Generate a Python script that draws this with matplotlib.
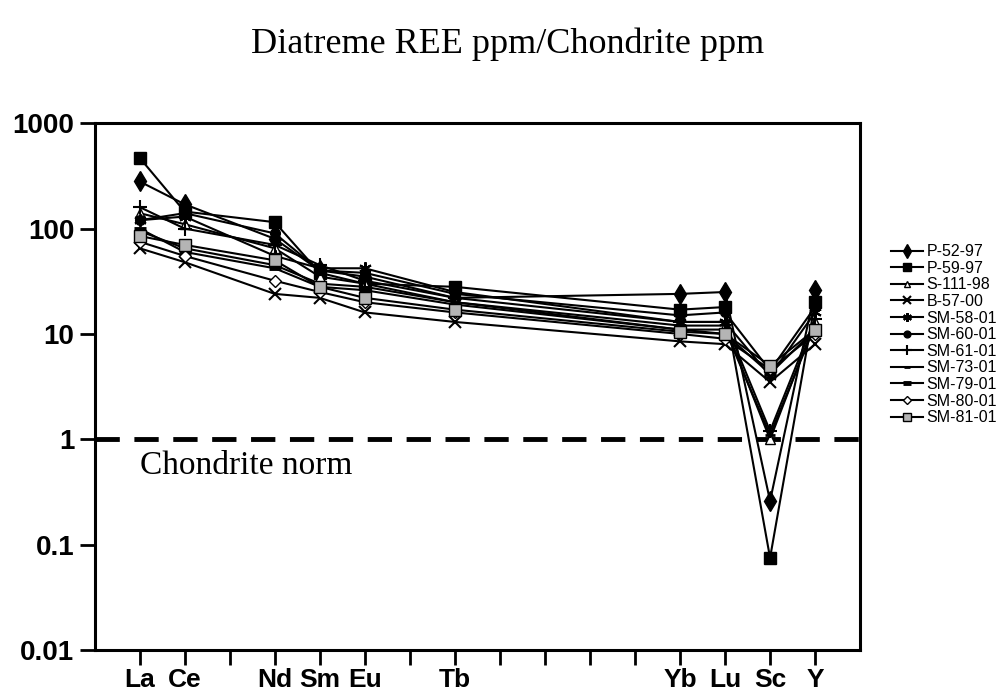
#!/usr/bin/env python3

import matplotlib
matplotlib.use("Agg")
import matplotlib.pyplot as plt

# element order on the x axis (only some of them get a label)
elements = ["La", "Ce", "Pr", "Nd", "Sm", "Eu", "Gd", "Tb",
            "Dy", "Ho", "Er", "Tm", "Yb", "Lu", "Sc", "Y"]
shown = ["La", "Ce", "Nd", "Sm", "Eu", "Tb", "Yb", "Lu", "Sc", "Y"]

samples = ["P-52-97", "P-59-97", "S-111-98", "B-57-00", "SM-58-01",
           "SM-60-01", "SM-61-01", "SM-73-01", "SM-79-01", "SM-80-01",
           "SM-81-01"]

# sample/chondrite ratios for La Ce Nd Sm Eu Tb Yb Lu Sc Y
p52_97 = [280, 170, 80, 40, 35, 22, 24, 25, 0.26, 26]
p59_97 = [470, 145, 115, 38, 30, 28, 17, 18, 0.075, 20]
s111_98 = [140, 110, 65, 35, 30, 20, 12, 12, 1.0, 13]
b57_00 = [65, 48, 24, 22, 16, 13, 8.5, 8, 3.5, 8]
sm58_01 = [120, 130, 55, 42, 42, 25, 13, 13, 4.0, 16]
sm60_01 = [120, 140, 90, 40, 38, 24, 15, 16, 4.5, 18]
sm61_01 = [160, 100, 70, 45, 32, 22, 13, 13, 1.2, 14]
sm73_01 = [95, 65, 45, 30, 28, 20, 11, 11, 1.1, 12]
sm79_01 = [100, 60, 42, 28, 26, 19, 11, 10, 4.2, 11]
sm80_01 = [75, 55, 32, 25, 20, 16, 10, 9, 4.6, 10]
sm81_01 = [85, 70, 50, 28, 22, 17, 10.5, 10, 5.0, 11]

series = [p52_97, p59_97, s111_98, b57_00, sm58_01, sm60_01,
          sm61_01, sm73_01, sm79_01, sm80_01, sm81_01]

styles = [
    dict(marker="d", ms=10, mfc="black", mec="black"),
    dict(marker="s", ms=8, mfc="black", mec="black"),
    dict(marker="^", ms=7, mfc="white", mec="black"),
    dict(marker="x", ms=8, mec="black", mew=1.5),
    dict(marker=(6, 2, 0), ms=9, mec="black", mew=1.5),
    dict(marker="o", ms=7, mfc="black", mec="black"),
    dict(marker="+", ms=10, mec="black", mew=1.5),
    dict(marker="_", ms=7, mec="black", mew=2),
    dict(marker="_", ms=8, mec="black", mew=3.5),
    dict(marker="D", ms=6, mfc="white", mec="black"),
    dict(marker="s", ms=8, mfc="#b4b4b4", mec="black"),
]

matplotlib.rcParams["axes.linewidth"] = 2.2


def main():

    fig = plt.figure(figsize=(10.06, 6.96), dpi=100)
    ax = fig.add_axes([0.094, 0.066, 0.761, 0.757])

    xpos = [elements.index(e) + 1 for e in shown]

    for name, vals, st in zip(samples, series, styles):
        ax.plot(xpos, vals, color="black", linewidth=1.5, label=name, **st)

    ax.axhline(1, color="black", linewidth=3.5, linestyle=(0, (5, 3)),
               zorder=1)
    ax.text(1, 0.56, "Chondrite norm", family="Liberation Serif",
            fontsize=24, va="center", ha="left")

    ax.set_yscale("log")
    ax.set_ylim(0.01, 1000)
    ax.set_xlim(0, 17)
    ax.set_yticks([0.01, 0.1, 1, 10, 100, 1000])
    ax.set_yticklabels(["0.01", "0.1", "1", "10", "100", "1000"])
    ax.minorticks_off()
    ax.set_xticks(range(1, 17))
    ax.set_xticklabels([e if e in shown else "" for e in elements])

    ax.tick_params(axis="both", direction="out", length=11, width=2,
                   labelsize=20)
    ax.tick_params(axis="x", pad=2, labelsize=19)
    for lab in ax.get_xticklabels() + ax.get_yticklabels():
        lab.set_family("Liberation Sans")
        lab.set_fontweight("bold")

    fig.text(0.505, 0.937, "Diatreme REE ppm/Chondrite ppm",
             family="Liberation Serif", fontsize=26, ha="center",
             va="center")

    leg = ax.legend(loc="center left", bbox_to_anchor=(0.886, 0.519),
                    bbox_transform=fig.transFigure, frameon=False,
                    fontsize=11.5, handlelength=2.0, labelspacing=0.1,
                    borderpad=0, borderaxespad=0, handletextpad=0.2,
                    markerscale=0.7)
    for t in leg.get_texts():
        t.set_family("Liberation Sans")

    plt.savefig("out.png", dpi=100)


if __name__ == "__main__":
    main()
